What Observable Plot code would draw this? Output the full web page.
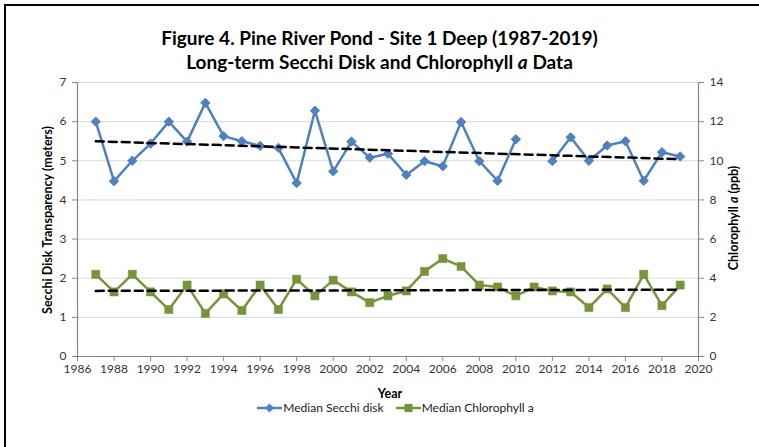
<!DOCTYPE html>
<html>
<head>
<meta charset="utf-8">
<script src="https://cdn.jsdelivr.net/npm/d3@7"></script>
<script src="https://cdn.jsdelivr.net/npm/@observablehq/plot@0.6"></script>
<style>
  html, body { margin: 0; padding: 0; background: #fff; }
  #wrap { position: relative; width: 759px; height: 447px; overflow: hidden; background: #fff; font-family: Lato, "Liberation Sans", sans-serif; }
  #border { position: absolute; left: 4px; top: 4px; width: 800px; height: 800px; border: 2px solid #000; box-sizing: border-box; }
  .title { position: absolute; left: 0; width: 759px; text-align: center; font-weight: bold; font-size: 19px; color: #000; white-space: nowrap; }
  .vlab { position: absolute; transform: translate(-50%, -50%) rotate(-90deg); white-space: nowrap; font-weight: bold; font-size: 12.5px; color: #000; }
  #year { position: absolute; left: 390px; top: 393px; transform: translate(-50%, -50%); font-weight: bold; font-size: 12.5px; }
  #chart { position: absolute; left: 0; top: 70px; }
  #legend { position: absolute; left: 0; width: 759px; top: 400px; display: flex; justify-content: center; gap: 12px; font-size: 12px; color: #222; padding-left: 32px; box-sizing: border-box; }
  #legend span.item { display: flex; align-items: center; gap: 1px; }
</style>
</head>
<body>
<div id="wrap">
  <div id="border"></div>
  <div class="title" style="top:26px">Figure 4. Pine River Pond - Site 1 Deep (1987-2019)</div>
  <div class="title" style="top:50px">Long-term Secchi Disk and Chlorophyll <i>a</i> Data</div>
  <div id="chart"></div>
  <div class="vlab" style="left:47px; top:220px">Secchi Disk Transparency (meters)</div>
  <div class="vlab" style="left:733px; top:218px">Chlorophyll <i>a</i> (ppb)</div>
  <div id="year">Year</div>
  <div id="legend"></div>
</div>
<script>
// Data
const years = [1987,1988,1989,1990,1991,1992,1993,1994,1995,1996,1997,1998,1999,2000,2001,2002,2003,2004,2005,2006,2007,2008,2009,2010,2011,2012,2013,2014,2015,2016,2017,2018,2019];
const secchi = [6.0,4.48,5.0,5.44,6.0,5.49,6.48,5.63,5.5,5.38,5.33,4.43,6.28,4.73,5.49,5.08,5.18,4.64,4.99,4.86,5.99,4.99,4.49,5.55,null,4.99,5.6,5.0,5.39,5.5,4.49,5.22,5.11];
const chlorophyll = [4.2,3.3,4.2,3.3,2.4,3.65,2.2,3.2,2.35,3.65,2.4,3.95,3.1,3.9,3.3,2.75,3.1,3.35,4.35,5.0,4.6,3.65,3.55,3.1,3.55,3.35,3.3,2.5,3.45,2.5,4.2,2.6,3.65];
const xDomain = [1986, 2020];
const xTicks = [1986,1988,1990,1992,1994,1996,1998,2000,2002,2004,2006,2008,2010,2012,2014,2016,2018,2020];
const yDomain = [0, 7];
const yTicks = [0,1,2,3,4,5,6,7];
const seriesNames = ["Median Secchi disk", "Median Chlorophyll a"];
const colors = ["#4F81BD", "#77933C"];
const chlRatio = 2; // right axis (ppb) = left axis units * 2

const sData = years.map((year, i) => ({year, value: secchi[i] == null ? NaN : secchi[i]}));
const sDefined = sData.filter(d => Number.isFinite(d.value));
const cData = years.map((year, i) => ({year, value: chlorophyll[i] / chlRatio}));

const axisColor = "#868686";
const chart = Plot.plot({
  width: 759,
  height: 330,
  marginLeft: 77,
  marginRight: 61,
  marginTop: 12,
  marginBottom: 44,
  style: {fontFamily: "Lato, sans-serif", fontSize: "12px", color: "#333", background: "transparent"},
  x: {domain: xDomain},
  y: {domain: yDomain},
  marks: [
    Plot.gridY(yTicks.filter(d => d > 0), {stroke: "#d9d9d9", strokeOpacity: 1, strokeWidth: 1}),
    Plot.ruleX([xDomain[0]], {stroke: axisColor, strokeWidth: 1.2}),
    Plot.ruleX([xDomain[1]], {stroke: axisColor, strokeWidth: 1.2}),
    Plot.ruleY([yDomain[0]], {stroke: axisColor, strokeWidth: 1.2}),
    Plot.axisX({ticks: xTicks, tickFormat: d => String(d), tickSize: 5, tickPadding: 3, stroke: axisColor, label: null}),
    Plot.axisY({anchor: "left", ticks: yTicks, tickFormat: d => String(d), tickSize: 5, tickPadding: 6, stroke: axisColor, label: null}),
    Plot.axisY({anchor: "right", ticks: yTicks, tickFormat: d => String(d * chlRatio), tickSize: 5, tickPadding: 6, stroke: axisColor, label: null}),
    Plot.line(sData, {x: "year", y: "value", stroke: colors[0], strokeWidth: 2.5}),
    Plot.dot(sDefined, {x: "year", y: "value", symbol: "diamond2", r: 4.2, fill: colors[0], stroke: colors[0], strokeWidth: 1}),
    Plot.line(cData, {x: "year", y: "value", stroke: colors[1], strokeWidth: 2.5}),
    Plot.dot(cData, {x: "year", y: "value", symbol: "square", r: 4.6, fill: colors[1], stroke: colors[1], strokeWidth: 0.5}),
    Plot.linearRegressionY(sDefined, {x: "year", y: "value", stroke: "#000", strokeWidth: 2.5, strokeDasharray: "8,5", ci: 0}),
    Plot.linearRegressionY(cData, {x: "year", y: "value", stroke: "#000", strokeWidth: 2.5, strokeDasharray: "8,5", ci: 0})
  ]
});
document.getElementById("chart").appendChild(chart);

// Legend
const legend = document.getElementById("legend");
const symbols = [
  '<polygon points="12.5,1.5 17,6 12.5,10.5 8,6" />',
  '<rect x="8.5" y="2" width="8" height="8" />'
];
seriesNames.forEach((name, i) => {
  const item = document.createElement("span");
  item.className = "item";
  item.innerHTML = `<svg width="25" height="12"><line x1="0" x2="25" y1="6" y2="6" stroke="${colors[i]}" stroke-width="2.5"/><g fill="${colors[i]}">${symbols[i]}</g></svg><span>${name}</span>`;
  legend.appendChild(item);
});
</script>
</body>
</html>
